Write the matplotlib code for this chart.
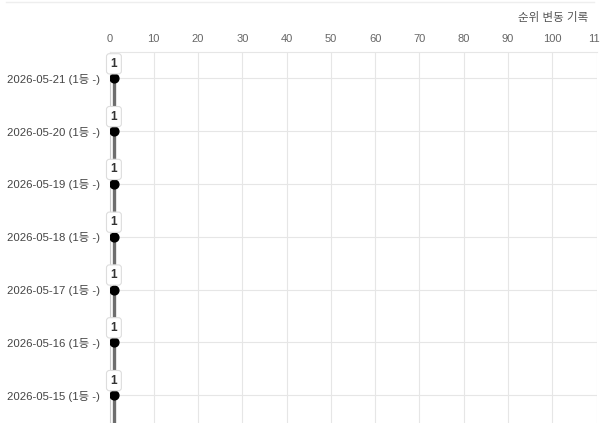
import matplotlib
matplotlib.use('Agg')
import matplotlib.pyplot as plt
import numpy as np

plt.rcParams['font.family'] = ['Liberation Sans', 'Noto Sans CJK KR', 'DejaVu Sans']

# data (newest first, list runs past the bottom edge)
dates = ['2026-05-21', '2026-05-20', '2026-05-19', '2026-05-18',
         '2026-05-17', '2026-05-16', '2026-05-15', '2026-05-14']
ranks = [1, 1, 1, 1, 1, 1, 1, 1]
changes = ['-', '-', '-', '-', '-', '-', '-', '-']
x_ticks = [0, 10, 20, 30, 40, 50, 60, 70, 80, 90, 100, 110]

labels = [f'{d} ({r}등 {c})' for d, r, c in zip(dates, ranks, changes)]
ypos = np.arange(len(dates))

fig = plt.figure(figsize=(6, 4.23), dpi=100)
ax = fig.add_axes([109.5 / 600, 0.0, 487 / 600, 1 - 52 / 423])

# card border line at the very top
fig.add_artist(plt.Line2D([0.01, 0.99], [0.995, 0.995], color='#eeeeee', lw=1))

ax.plot(ranks, ypos, color='#6e6e6e', lw=2.4, zorder=3)
ax.scatter(ranks, ypos, s=40, color='black', zorder=4)

for r, y in zip(ranks, ypos):
    ax.annotate(str(r), (r, y), xytext=(0, 10.5), textcoords='offset points',
                ha='center', va='center', fontsize=8.5, fontweight='bold', color='#333333',
                bbox=dict(boxstyle='round,pad=0.35,rounding_size=0.25', fc='white', ec='#dddddd', lw=0.8),
                zorder=5)

ax.set_xticks(x_ticks)
ax.set_yticks(ypos)
ax.set_yticklabels(labels)
ax.set_xlim(0, 110)
ax.set_ylim(-0.5 + (423 - 52) / 52.8, -0.5)
ax.xaxis.tick_top()
ax.tick_params(axis='x', length=0, pad=6, labelsize=8, labelcolor='#666666')
ax.tick_params(axis='y', length=0, pad=7, labelsize=8.2, labelcolor='#444444')

ax.grid(True, color='#e6e6e6', lw=0.8)
ax.set_axisbelow(True)
for side in ['right', 'bottom']:
    ax.spines[side].set_visible(False)
ax.spines['top'].set_color('#e6e6e6')
ax.spines['left'].set_color('#cccccc')

fig.text(588 / 600, 1 - 18 / 423, '순위 변동 기록', ha='right', va='center',
         fontsize=8.3, color='#555555')

fig.savefig('out.png', dpi=100)
